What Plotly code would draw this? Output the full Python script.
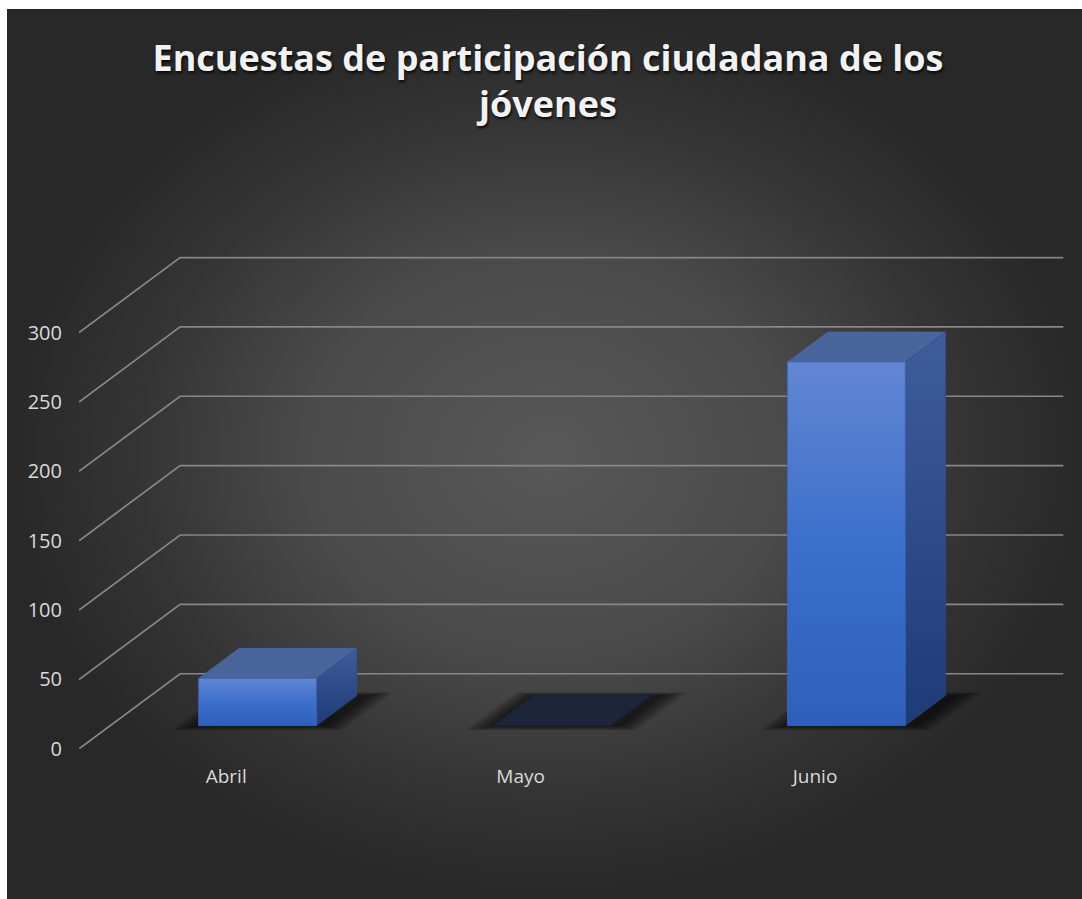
import plotly.graph_objects as go

# ---------------- data ----------------
categories = ["Abril", "Mayo", "Junio"]
values = [34, 0, 262]
y_ticks = [0, 50, 100, 150, 200, 250, 300]
title_text = "Encuestas de participación ciudadana de los<br>jóvenes"

# ---------------- geometry / style ----------------
# the page is captured with a slight vertical squeeze, so lay out in
# target pixels and scale vertically to page pixels
SX, SY = 1.0, 913 / 899
W, H = 1090, 913
BG_L, BG_T = 7 * SX, 9 * SY                       # white border of the chart area
PL, PR, PT, PB = 79 * SX, 1067 * SX, 256 * SY, 748 * SY   # plot area
X0, X1 = -0.5, 2.856
Y0, Y1 = 0, 355
DX, DY = 0.3435, 54.1                    # full-depth oblique offset (data units)
BAR_W = 0.40
D_FRONT, D_BACK = 0.31, 0.71

GRID_COLOR = "#878787"
TEXT_COLOR = "#d9d9d9"
FONT = "Open Sans"


def proj(x, v, d):
    return x + d * DX, v + d * DY


def poly(pts):
    xs, ys = [], []
    for (x, v, d) in pts:
        px, py = proj(x, v, d)
        xs.append(px)
        ys.append(py)
    xs.append(xs[0])
    ys.append(ys[0])
    return xs, ys


fig = go.Figure()

# background (radial gradient) on full-figure subplot
bx0, by1 = BG_L / W, 1 - BG_T / H
fig.add_trace(go.Scatter(
    x=[bx0, 1, 1, bx0, bx0], y=[0, 0, by1, by1, 0], mode="lines", fill="toself",
    line=dict(width=0), hoverinfo="skip", xaxis="x", yaxis="y",
    fillgradient=dict(type="radial",
                      colorscale=[[0, "#585858"], [0.45, "#4a4a4a"],
                                  [0.75, "#353535"], [1, "#282828"]]),
))

# gridlines: front diagonal + back wall line for every tick
gx, gy = [], []
for v in y_ticks:
    a = proj(X0, v, 0)
    b = proj(X0, v, 1)
    c = proj(2.5, v, 1)
    gx += [a[0], b[0], c[0], None]
    gy += [a[1], b[1], c[1], None]
fig.add_trace(go.Scatter(x=gx, y=gy, mode="lines", cliponaxis=False,
                         line=dict(color=GRID_COLOR, width=1.7),
                         hoverinfo="skip", xaxis="x2", yaxis="y2"))

# soft shadows under bars
for i, v in enumerate(values):
    c = i
    for k in range(1, 8):
        e = 0.011 * k
        ed = 0.03 * k
        xs, ys = poly([(c - BAR_W / 2 - e + 0.005, 0, D_FRONT - ed * 0.3),
                       (c + BAR_W / 2 + e + 0.03, 0, D_FRONT - ed * 0.3),
                       (c + BAR_W / 2 + e + 0.03, 0, D_BACK + ed * 0.2),
                       (c - BAR_W / 2 - e + 0.005, 0, D_BACK + ed * 0.2)])
        fig.add_trace(go.Scatter(x=xs, y=ys, mode="lines", fill="toself",
                                 line=dict(width=0),
                                 fillcolor="rgba(0,0,0,0.11)",
                                 hoverinfo="skip", xaxis="x2", yaxis="y2"))

# 3D bars
for i, v in enumerate(values):
    c = i
    xl, xr = c - BAR_W / 2, c + BAR_W / 2
    # top face
    xs, ys = poly([(xl, v, D_FRONT), (xr, v, D_FRONT), (xr, v, D_BACK), (xl, v, D_BACK)])
    fig.add_trace(go.Scatter(x=xs, y=ys, mode="lines", fill="toself",
                             line=dict(width=0.6, color="#4d6aa6" if v > 0 else "#1c2539"),
                             fillcolor="#4a649c" if v > 0 else "#1c2539",
                             hoverinfo="skip", xaxis="x2", yaxis="y2"))
    if v <= 0:
        continue
    # right side face
    xs, ys = poly([(xr, 0, D_FRONT), (xr, 0, D_BACK), (xr, v, D_BACK), (xr, v, D_FRONT)])
    fig.add_trace(go.Scatter(x=xs, y=ys, mode="lines", fill="toself",
                             line=dict(width=0.6, color="#2c4a86"),
                             fillgradient=dict(type="vertical",
                                               colorscale=[[0, "#1e3b78"], [1, "#3f5d9a"]]),
                             hoverinfo="skip", xaxis="x2", yaxis="y2"))
    # front face
    xs, ys = poly([(xl, 0, D_FRONT), (xr, 0, D_FRONT), (xr, v, D_FRONT), (xl, v, D_FRONT)])
    fig.add_trace(go.Scatter(x=xs, y=ys, mode="lines", fill="toself",
                             line=dict(width=0.8, color="#3f68bc"),
                             fillgradient=dict(type="vertical",
                                               colorscale=[[0, "#2e5fbb"], [0.5, "#3c70cc"],
                                                           [1, "#6287d2"]]),
                             hoverinfo="skip", xaxis="x2", yaxis="y2"))

fig.update_layout(
    width=W, height=H,
    margin=dict(l=0, r=0, t=0, b=0, pad=0),
    paper_bgcolor="white",
    plot_bgcolor="rgba(0,0,0,0)",
    showlegend=False,
    hovermode=False,
    title=dict(
        text=title_text, x=548 * SX / W, xanchor="center",
        y=1 - 69.5 * SY / H, yanchor="middle", yref="container",
        font=dict(family=FONT, size=36, color="#f2f2f2", weight="bold",
                  shadow="1px 2px 3px rgba(0,0,0,0.85)"),
    ),
    xaxis=dict(domain=[0, 1], range=[0, 1], visible=False, fixedrange=True, anchor="y"),
    yaxis=dict(domain=[0, 1], range=[0, 1], visible=False, fixedrange=True, anchor="x"),
    xaxis2=dict(domain=[PL / W, PR / W], range=[X0, X1], anchor="y2",
                tickmode="array", tickvals=list(range(len(categories))),
                ticktext=categories, showgrid=False, zeroline=False,
                showline=False, ticks="", ticklabelstandoff=14,
                tickfont=dict(family=FONT, size=19, color=TEXT_COLOR),
                fixedrange=True),
    yaxis2=dict(domain=[(H - PB) / H, (H - PT) / H], range=[Y0, Y1], anchor="x2",
                tickmode="array", tickvals=y_ticks,
                ticktext=[str(t) for t in y_ticks],
                showgrid=False, zeroline=False, showline=False, ticks="",
                ticklabelstandoff=16,
                tickfont=dict(family=FONT, size=20, color=TEXT_COLOR),
                fixedrange=True),
)

fig.write_html("out.html", config={"displayModeBar": False},
               post_script="document.body.style.margin='0';"
                           "document.body.style.overflow='hidden';")
